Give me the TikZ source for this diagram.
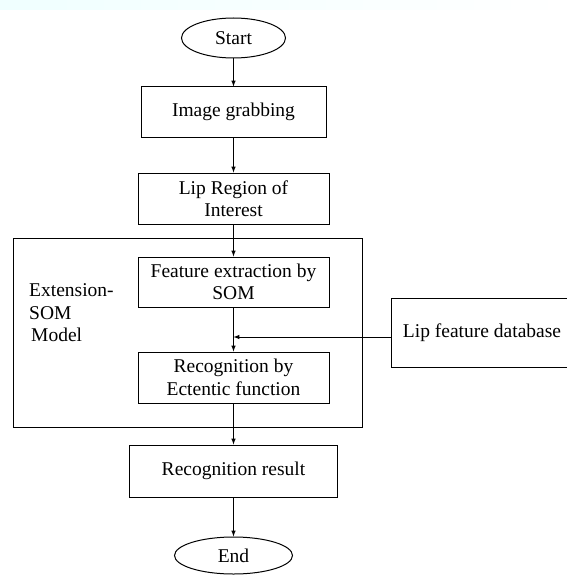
\documentclass[tikz,border=0pt]{standalone}
\usepackage{fontspec}
\setmainfont{Liberation Serif}
\usepackage{tikz}
\usetikzlibrary{arrows,shapes.geometric}

\begin{document}
\begin{tikzpicture}[>=latex, x=1pt, y=-1pt, font=\fontsize{19.5}{22.5}\selectfont,
	box/.style={draw, line width=1pt, align=center, inner sep=2pt},
	term/.style={draw, ellipse, line width=1pt, inner sep=0pt}]
	\useasboundingbox (0,0) rectangle (566,575);
	%\draw [help lines] (0,0) grid (566,575);
	\shade [left color=cyan!6, middle color=cyan!20, right color=white] (0,0) rectangle (566,10);
	\node [term, minimum width=104, minimum height=40] (start) at (233.5,38) {Start};
	\node [box, minimum width=185, minimum height=50] (grab) at (233.5,112) {Image grabbing};
	\node [box, minimum width=191, minimum height=51] (roi) at (233.5,198.5) {Lip Region of\\Interest};
	\node [box, minimum width=349, minimum height=189] (model) at (187.5,332.5) {};
	\node [box, minimum width=191, minimum height=50] (feat) at (233.5,282) {Feature extraction by\\SOM};
	\node [box, minimum width=191, minimum height=51] (recog) at (233.5,377.5) {Recognition by\\Ectentic function};
	\node [align=left, anchor=west, inner sep=0pt] (label) at (29,313) {Extension-\\SOM\\\hspace{2pt}Model};
	\node [box, minimum width=182, minimum height=69] (db) at (482,332.5) {Lip feature database};
	\node [box, minimum width=208, minimum height=52] (result) at (233.5,471) {Recognition result};
	\node [term, minimum width=118, minimum height=37] (end) at (233.5,555.5) {End};
	\coordinate (join) at (233.5,337);
	\draw [->, line width=1pt] (start) -- (grab);
	\draw [->, line width=1pt] (grab) -- (roi);
	\draw [->, line width=1pt] (roi) -- (feat);
	\draw [->, line width=1pt] (feat) -- (recog);
	\draw [->, line width=1pt] (join -| db.west) -- (join);
	\draw [->, line width=1pt] (recog) -- (result);
	\draw [->, line width=1pt] (result) -- (end);
\end{tikzpicture}
\end{document}
